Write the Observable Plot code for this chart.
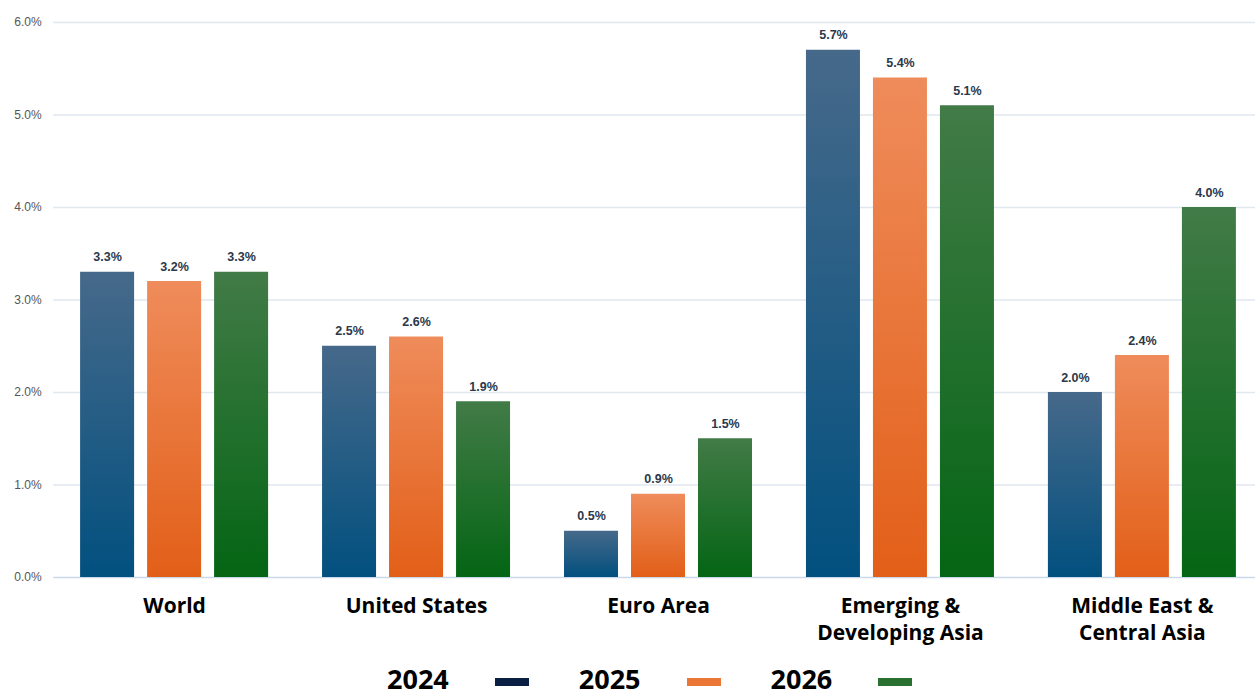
<!DOCTYPE html>
<html>
<head>
<meta charset="utf-8">
<script src="https://cdn.jsdelivr.net/npm/d3@7"></script>
<script src="https://cdn.jsdelivr.net/npm/@observablehq/plot@0.6"></script>
<style>
  html, body { margin: 0; padding: 0; background: #fff; }
  #chart { width: 1255px; height: 697px; position: relative; }
  .legend { position: absolute; left: 387px; top: 664px; display: flex; align-items: center;
    font-family: "Open Sans", sans-serif; font-weight: 700; font-size: 27px; color: #000; line-height: 1.1; }
  .legend .lab { margin-right: 46px; }
  .legend .sw { width: 34px; height: 8px; margin-right: 50px; margin-top: 6px; }
</style>
</head>
<body>
<div id="chart"></div>
<script>
const groups = ["World", "United States", "Euro Area", "Emerging &\nDeveloping Asia", "Middle East &\nCentral Asia"];
const years = ["2024", "2025", "2026"];
const values2024 = [3.3, 2.5, 0.5, 5.7, 2.0];
const values2025 = [3.2, 2.6, 0.9, 5.4, 2.4];
const values2026 = [3.3, 1.9, 1.5, 5.1, 4.0];
const yTicks = [0, 1, 2, 3, 4, 5, 6];
const legendColors = ["#0b1f45", "#ec7635", "#2a7030"];

const series = [values2024, values2025, values2026];
const data = [];
groups.forEach((g, i) => years.forEach((y, j) => data.push({group: g, year: y, value: series[j][i]})));

const defs = () => {
  const ns = "http://www.w3.org/2000/svg";
  const d = document.createElementNS(ns, "defs");
  const grads = [
    ["g2024", "#46698a", "#02507f"],
    ["g2025", "#ef8c5b", "#e25f18"],
    ["g2026", "#427b47", "#046514"]
  ];
  for (const [id, top, bot] of grads) {
    const lg = document.createElementNS(ns, "linearGradient");
    lg.setAttribute("id", id);
    lg.setAttribute("x1", "0"); lg.setAttribute("y1", "0");
    lg.setAttribute("x2", "0"); lg.setAttribute("y2", "1");
    for (const [off, col] of [["0", top], ["1", bot]]) {
      const s = document.createElementNS(ns, "stop");
      s.setAttribute("offset", off); s.setAttribute("stop-color", col);
      lg.appendChild(s);
    }
    d.appendChild(lg);
  }
  return d;
};

const chart = Plot.plot({
  width: 1255,
  height: 650,
  marginTop: 22,
  marginBottom: 73,
  marginLeft: 53,
  marginRight: 0,
  style: {fontFamily: "'Liberation Sans', Arial, sans-serif", background: "#fff"},
  fx: {domain: groups, range: [53, 1263], paddingInner: 0.223, paddingOuter: 0.112, round: false, label: null},
  x: {domain: years, paddingInner: 0.194, paddingOuter: 0, round: false, axis: null},
  y: {domain: [0, 6], label: null},
  color: {domain: years, range: years.map(y => `url(#g${y})`)},
  marks: [
    defs,
    Plot.ruleY(yTicks.slice(1), {stroke: "#dfe7ef", strokeWidth: 1.5, insetLeft: -27, insetRight: -27}),
    Plot.ruleY([0], {stroke: "#c9d9ea", strokeWidth: 1.5, insetLeft: -27, insetRight: -27}),
    Plot.axisY({ticks: yTicks, tickSize: 0, tickPadding: 39, tickFormat: d => d.toFixed(1) + "%",
      fontSize: 12, fill: "#555"}),
    Plot.barY(data, {fx: "group", x: "year", y: "value", fill: "year"}),
    Plot.text(data, {fx: "group", x: "year", y: "value", text: d => d.value.toFixed(1) + "%",
      dy: -15, fontSize: 12.5, fontWeight: "bold", fill: "#2b384b"}),
    Plot.axisFx({anchor: "bottom", tickSize: 0, tickPadding: 16, lineHeight: 1.29,
      fontSize: 21, fontWeight: "bold", fill: "#000", label: null,
      fontFamily: "'Open Sans', sans-serif"})
  ]
});
const host = document.getElementById("chart");
host.appendChild(chart);

const legend = document.createElement("div");
legend.className = "legend";
years.forEach((y, i) => {
  const l = document.createElement("span"); l.className = "lab"; l.textContent = y;
  const s = document.createElement("span"); s.className = "sw"; s.style.background = legendColors[i];
  legend.appendChild(l); legend.appendChild(s);
});
host.appendChild(legend);
</script>
</body>
</html>
